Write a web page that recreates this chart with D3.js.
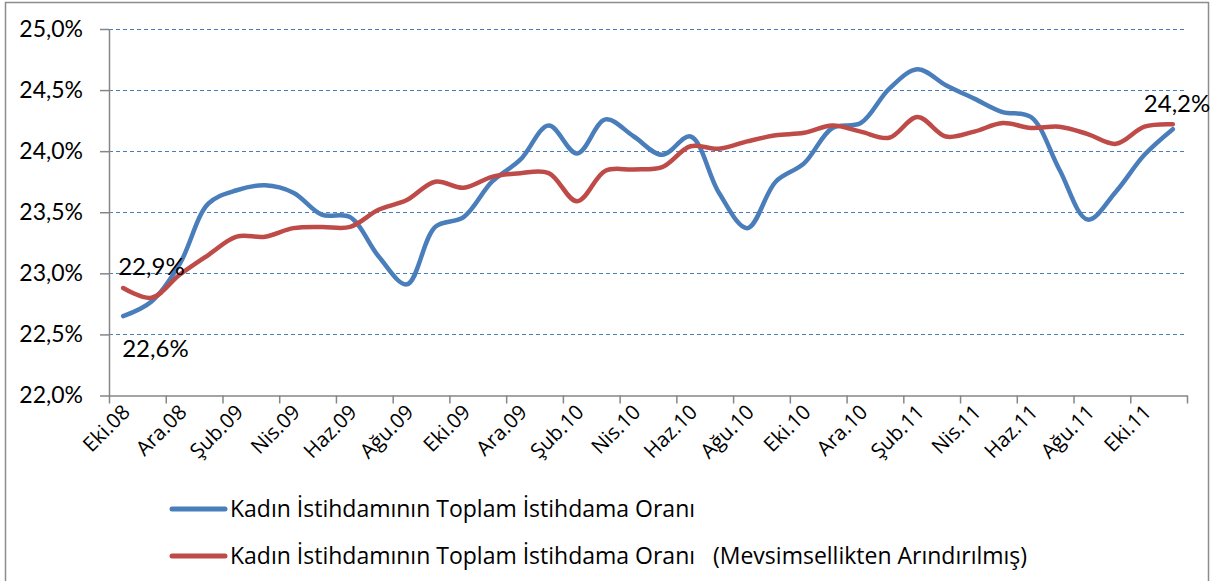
<!DOCTYPE html>
<html>
<head>
<meta charset="utf-8">
<script src="https://cdn.jsdelivr.net/npm/d3@7"></script>
<style>
  body { margin: 0; background: #fff; }
  svg { display: block; font-family: Lato, "Open Sans", sans-serif; }
</style>
</head>
<body>
<svg id="chart" width="1216" height="581"></svg>
<script>
// months, Eki.08 .. Kas.11
var months = [
  "Eki.08", "Kas.08", "Ara.08",
  "Oca.09", "Şub.09", "Mar.09", "Nis.09", "May.09", "Haz.09", "Tem.09", "Ağu.09", "Eyl.09", "Eki.09", "Kas.09", "Ara.09",
  "Oca.10", "Şub.10", "Mar.10", "Nis.10", "May.10", "Haz.10", "Tem.10", "Ağu.10", "Eyl.10", "Eki.10", "Kas.10", "Ara.10",
  "Oca.11", "Şub.11", "Mar.11", "Nis.11", "May.11", "Haz.11", "Tem.11", "Ağu.11", "Eyl.11", "Eki.11", "Kas.11"
];

var oran = [
  22.65, 22.77, 23.08, 23.57, 23.68, 23.72, 23.66, 23.48, 23.46, 23.14,
  22.91, 23.38, 23.46, 23.75, 23.93, 24.21, 23.98, 24.26, 24.12, 23.97,
  24.12, 23.66, 23.37, 23.75, 23.90, 24.19, 24.23, 24.51, 24.67, 24.54,
  24.43, 24.32, 24.28, 23.85, 23.44, 23.67, 23.97, 24.18
];

var oranMevsim = [
  22.88, 22.80, 22.99, 23.15, 23.30, 23.30, 23.37, 23.38, 23.38, 23.52,
  23.60, 23.75, 23.70, 23.79, 23.82, 23.82, 23.59, 23.84, 23.85, 23.87,
  24.04, 24.02, 24.08, 24.13, 24.15, 24.21, 24.16, 24.11, 24.28, 24.12,
  24.16, 24.23, 24.19, 24.20, 24.14, 24.06, 24.20, 24.22
];

var yTicks = [22.0, 22.5, 23.0, 23.5, 24.0, 24.5, 25.0];

var seriesNames = [
  "Kadın İstihdamının Toplam İstihdama Oranı",
  "Kadın İstihdamının Toplam İstihdama Oranı   (Mevsimsellikten Arındırılmış)"
];

var colors = ["#4a7ebb", "#be4b48"];

var svg = d3.select("#chart");
var plot = { left: 109, right: 1187, top: 29, bottom: 395.5 };

var fmt = function(v) { return v.toFixed(1).replace(".", ",") + "%"; };

// outer frame
svg.append("rect")
  .attr("x", 5.5).attr("y", 2.5)
  .attr("width", 1203).attr("height", 600)
  .attr("fill", "none")
  .attr("stroke", "#8c8c8c")
  .attr("stroke-width", 1.5);

var x = d3.scaleLinear().domain([0, months.length]).range([plot.left, plot.right]);
var y = d3.scaleLinear().domain([22, 25]).range([plot.bottom, plot.top]);
var cx = function(i) { return x(i + 0.5); };

// dashed grid
svg.append("g").selectAll("line")
  .data(yTicks.slice(1))
  .enter().append("line")
    .attr("x1", plot.left).attr("x2", plot.right)
    .attr("y1", function(d) { return Math.round(y(d)) + 0.5; })
    .attr("y2", function(d) { return Math.round(y(d)) + 0.5; })
    .attr("stroke", "#4a7ebb")
    .attr("stroke-width", 1)
    .attr("stroke-dasharray", "4,3");

// y axis
var yAxis = svg.append("g")
  .attr("transform", "translate(" + plot.left + ",0)")
  .call(d3.axisLeft(y).tickValues(yTicks).tickFormat(fmt).tickSize(9).tickSizeOuter(0).tickPadding(17));
yAxis.selectAll("text").attr("font-size", 23).attr("fill", "#000").attr("font-family", "Lato");

// x axis, a tick every two months
var xAxis = svg.append("g")
  .attr("transform", "translate(0," + plot.bottom + ")")
  .call(d3.axisBottom(x).tickValues(d3.range(0, months.length + 1, 2)).tickFormat("").tickSize(8).tickSizeOuter(0));

svg.selectAll(".domain, .tick line").attr("stroke", "#868686").attr("stroke-width", 1.5);

svg.append("g").selectAll("text")
  .data(months.filter(function(d, i) { return i % 2 === 0; }))
  .enter().append("text")
    .attr("text-anchor", "end")
    .attr("font-family", "'Open Sans'")
    .attr("font-size", 20.5)
    .attr("transform", function(d, i) {
      return "translate(" + (cx(i * 2) + 8) + "," + (plot.bottom + 18) + ")rotate(-45)";
    })
    .text(function(d) { return d; });

// lines
var line = d3.line()
  .x(function(d, i) { return cx(i); })
  .y(function(d) { return y(d); })
  .curve(d3.curveCatmullRom);

[oran, oranMevsim].forEach(function(s, k) {
  svg.append("path")
    .datum(s)
    .attr("d", line)
    .attr("fill", "none")
    .attr("stroke", colors[k])
    .attr("stroke-width", 4.5)
    .attr("stroke-linecap", "round")
    .attr("stroke-linejoin", "round");
});

// data labels
var labels = [
  { v: oranMevsim[0], x: cx(0) - 5, y: y(oranMevsim[0]) - 13 },
  { v: oran[0], x: cx(0) - 1, y: y(oran[0]) + 41 },
  { v: oran[oran.length - 1], x: cx(oran.length - 1) - 29, y: y(oran[oran.length - 1]) - 17 }
];
svg.append("g").selectAll("text")
  .data(labels)
  .enter().append("text")
    .attr("x", function(d) { return d.x; })
    .attr("y", function(d) { return d.y; })
    .attr("font-size", 24)
    .text(function(d) { return fmt(d.v); });

// legend
var legend = svg.append("g").selectAll("g")
  .data(seriesNames)
  .enter().append("g")
    .attr("transform", function(d, i) { return "translate(0," + (509 + i * 47) + ")"; });
legend.append("line")
  .attr("x1", 172).attr("x2", 225)
  .attr("stroke", function(d, i) { return colors[i]; })
  .attr("stroke-width", 5)
  .attr("stroke-linecap", "round");
legend.append("text")
  .attr("x", 230)
  .attr("dy", "0.36em")
  .attr("font-family", "'Open Sans'")
  .attr("font-size", 23)
  .attr("xml:space", "preserve")
  .style("white-space", "pre")
  .text(function(d) { return d; });
</script>
</body>
</html>
